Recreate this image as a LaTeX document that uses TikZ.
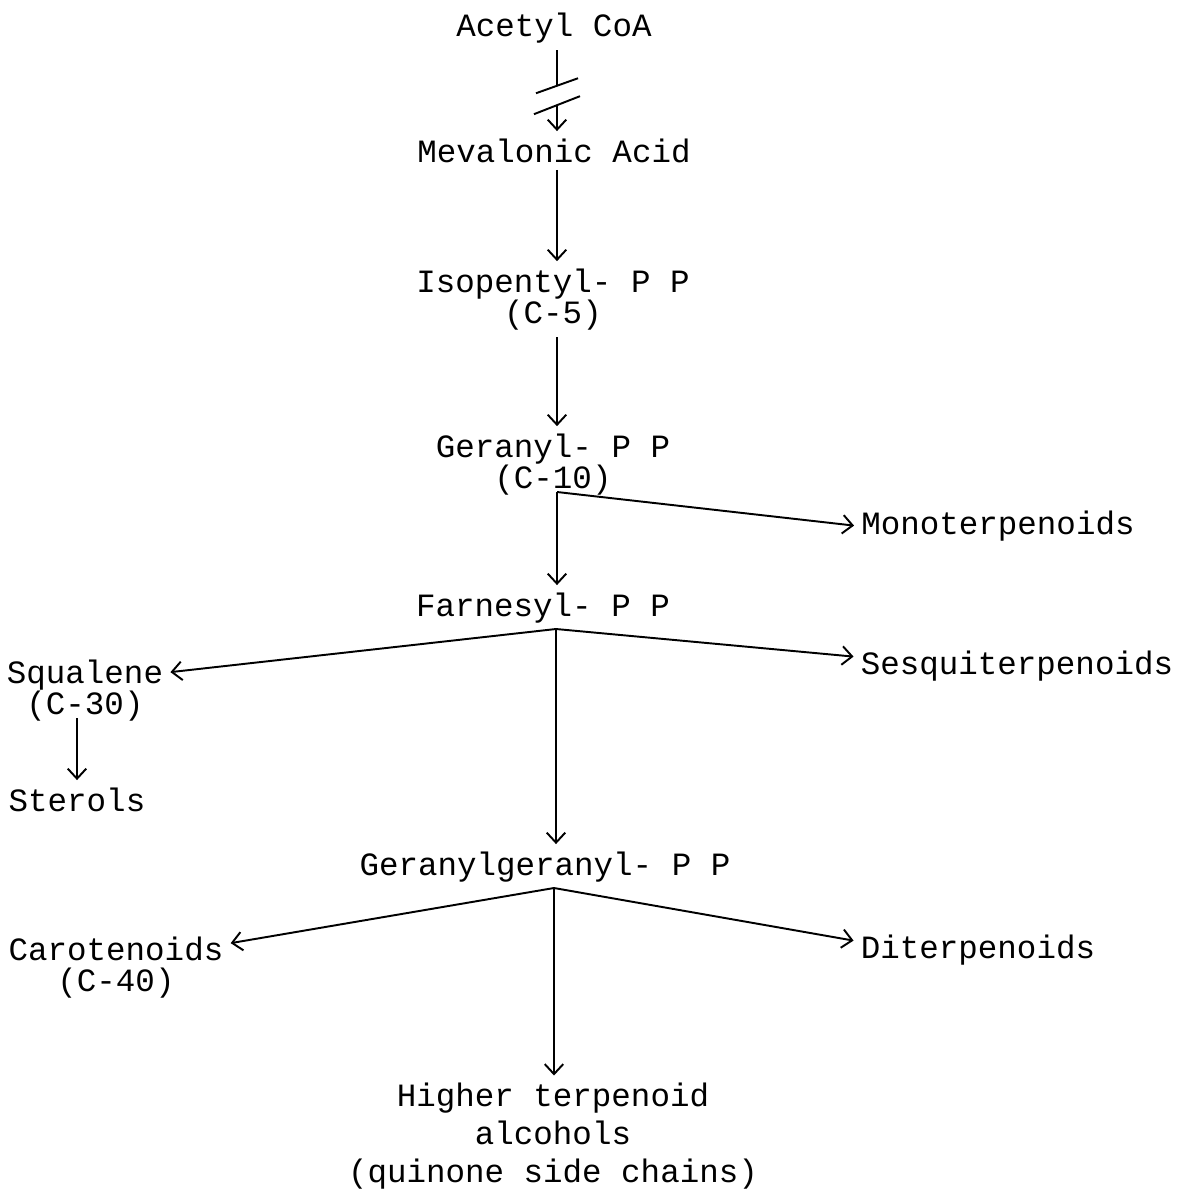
\documentclass[tikz,border=0pt]{standalone}
\usepackage{fontspec}
\newfontfamily\typewriter{Liberation Mono}
\usetikzlibrary{arrows.meta,calc}
\tikzset{
  compound/.style={align=center, inner sep=4pt, anchor=base, font=\typewriter\fontsize{18.5}{17.6}\selectfont},
  link/.style={line width=1.1pt},
  flow/.style={link, -{Straight Barb[length=2mm,width=3.7mm]}},
}
\begin{document}
\begin{tikzpicture}
  \useasboundingbox (0,0) rectangle (23.56,-23.8);
  % main chain
  \node[compound] (acoa) at (11.08,-0.72) {Acetyl CoA};
  \node[compound] (mev) at (11.08,-3.24) {Mevalonic Acid};
  \node[compound] (ipp) at (11.06,-6.46) {Isopentyl- P P\\(C-5)};
  \node[compound] (gpp) at (11.06,-9.76) {Geranyl- P P\\(C-10)};
  \node[compound] (fpp) at (10.86,-12.32) {Farnesyl- P P};
  \node[compound] (ggpp) at (10.9,-17.5) {Geranylgeranyl- P P};
  \node[compound, font=\typewriter\fontsize{18.5}{21.5}\selectfont] (hta) at (11.06,-23.64) {Higher terpenoid\\alcohols\\(quinone side chains)};
  % side products
  \node[compound] (mono) at (19.96,-10.68) {Monoterpenoids};
  \node[compound] (sesq) at (20.34,-13.48) {Sesquiterpenoids};
  \node[compound] (dit) at (19.56,-19.16) {Diterpenoids};
  \node[compound] (sq) at (1.7,-14.28) {Squalene\\(C-30)};
  \node[compound] (ster) at (1.54,-16.22) {Sterols};
  \node[compound] (car) at (2.32,-19.82) {Carotenoids\\(C-40)};
  % branch points
  \coordinate (gb) at (11.14,-9.84);
  \coordinate (fb) at (11.12,-12.58);
  \coordinate (gg) at (11.08,-17.76);
  % broken step
  \coordinate (s1) at ($(acoa.south -| gb)!0.44!(mev.north -| gb)$);
  \coordinate (s2) at ($(acoa.south -| gb)!0.68!(mev.north -| gb)$);
  \draw[link] (acoa.south -| gb) -- (s1);
  \draw[flow] (s2) -- (mev.north -| gb);
  \draw[link] ($(s1)+(-0.42,-0.15)$) -- ($(s1)+(0.42,0.15)$);
  \draw[link] ($(s2)+(-0.46,-0.18)$) -- ($(s2)+(0.46,0.18)$);
  % arrows
  \draw[flow] (mev.south -| gb) -- (ipp.north -| gb);
  \draw[flow] (ipp.south -| gb) -- (gpp.north -| gb);
  \draw[flow] (gb) -- (gb |- fpp.north);
  \draw[flow] (gb) -- (mono.west);
  \draw[flow] (fb) -- (fb |- ggpp.north);
  \draw[flow] (fb) -- ([yshift=-0.4cm]sq.north east);
  \draw[flow] (fb) -- ([yshift=0.18cm]sesq.west);
  \draw[flow] ($(sq.south -| ster.north)+(0,0.2)$) -- (ster.north);
  \draw[flow] (gg) -- (gg |- hta.north);
  \draw[flow] (gg) -- ([yshift=-0.28cm]car.north east);
  \draw[flow] (gg) -- ([yshift=0.18cm]dit.west);
\end{tikzpicture}
\end{document}
